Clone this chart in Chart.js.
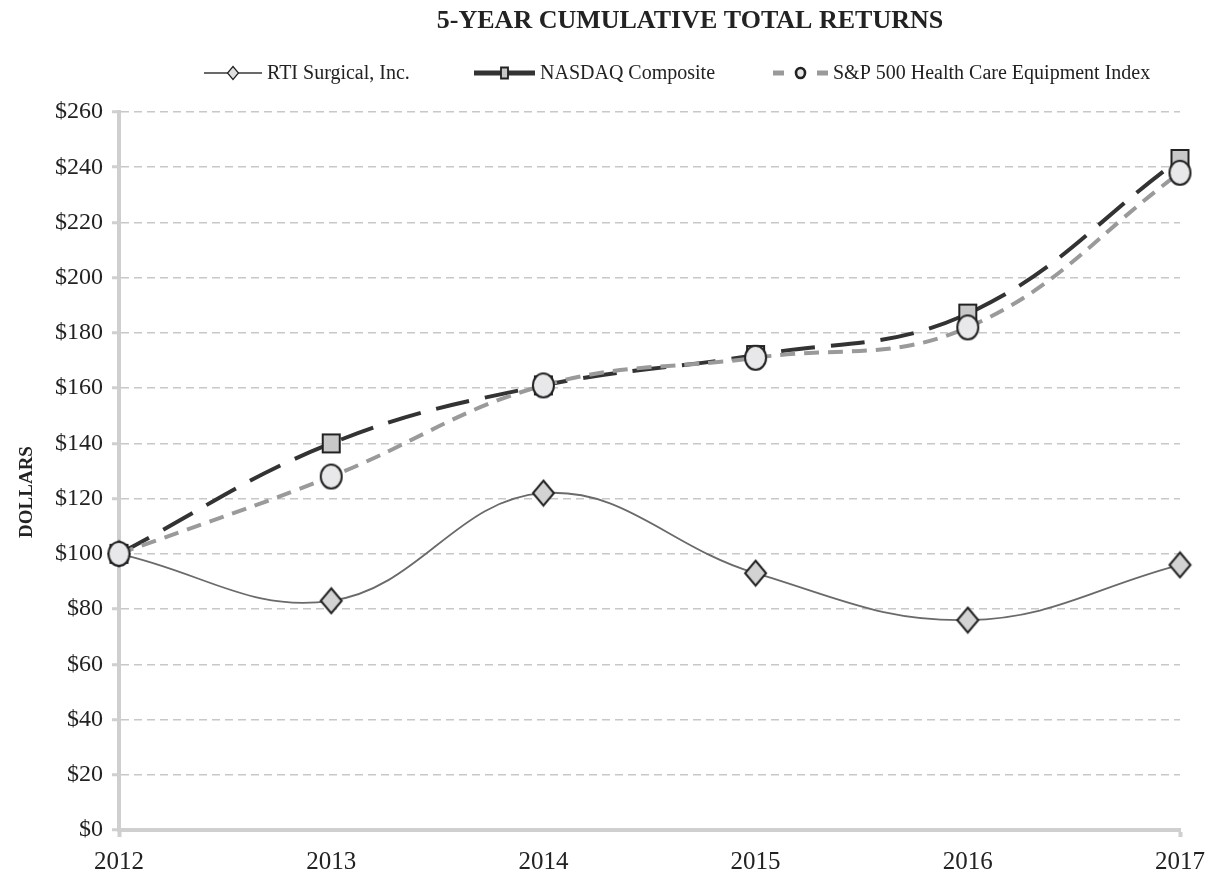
<!DOCTYPE html>
<html>
<head>
<meta charset="utf-8">
<script src="https://cdn.jsdelivr.net/npm/chart.js@4"></script>
<style>
  html, body { margin: 0; padding: 0; background: #fff; }
  #wrap { width: 1215px; height: 875px; position: relative; }
</style>
</head>
<body>
<div id="wrap"><canvas id="returnsChart" width="1215" height="875"></canvas></div>
<script>
  // data
  const years = ["2012", "2013", "2014", "2015", "2016", "2017"];
  const rtiValues = [100, 83, 122, 93, 76, 96];
  const nasdaqValues = [100, 140, 161, 172, 187, 243];
  const spHealthValues = [100, 128, 161, 171, 182, 238];
  const seriesNames = ["RTI Surgical, Inc.", "NASDAQ Composite", "S&P 500 Health Care Equipment Index"];
  const yTicks = [0, 20, 40, 60, 80, 100, 120, 140, 160, 180, 200, 220, 240, 260];

  const serif = "'Liberation Serif', 'Times New Roman', serif";

  // markers in the original are a bit taller than wide, so draw them on small canvases
  function makeMarker(shape, w, h, fill, lw) {
    const c = document.createElement('canvas');
    c.width = Math.ceil(w + lw * 2);
    c.height = Math.ceil(h + lw * 2);
    const g = c.getContext('2d');
    const cx = c.width / 2, cy = c.height / 2;
    g.beginPath();
    if (shape === 'diamond') {
      g.moveTo(cx, cy - h / 2);
      g.lineTo(cx + w / 2, cy);
      g.lineTo(cx, cy + h / 2);
      g.lineTo(cx - w / 2, cy);
      g.closePath();
    } else if (shape === 'square') {
      g.rect(cx - w / 2, cy - h / 2, w, h);
    } else {
      g.ellipse(cx, cy, w / 2, h / 2, 0, 0, Math.PI * 2);
    }
    g.fillStyle = fill;
    g.fill();
    g.lineWidth = lw;
    g.strokeStyle = '#222';
    g.stroke();
    return c;
  }

  const diamondBig = makeMarker('diamond', 21, 25, '#d3d3d3', 2);
  const squareBig = makeMarker('square', 17, 18, '#c8c8c8', 2);
  const ellipseBig = makeMarker('ellipse', 21, 24, '#e8e8ea', 2);
  const diamondSmall = makeMarker('diamond', 11, 13, '#e0e0e0', 1.2);
  const squareSmall = makeMarker('square', 7, 11, '#c8c8c8', 1.8);
  const ellipseSmall = makeMarker('ellipse', 9, 10, '#e8e8ea', 2.6);

  // title, legend and axis title drawn by hand
  const legendX = [204, 474, 773];
  const legendW = [58, 61, 55];
  const headerPlugin = {
    id: 'header',
    afterDraw(chart) {
      const ctx = chart.ctx;
      ctx.save();
      ctx.fillStyle = '#222';
      ctx.font = 'bold 26px ' + serif;
      ctx.textAlign = 'center';
      ctx.textBaseline = 'middle';
      ctx.fillText('5-YEAR CUMULATIVE TOTAL RETURNS', 690, 21);

      ctx.save();
      ctx.translate(27, 492);
      ctx.rotate(-Math.PI / 2);
      ctx.font = 'bold 19px ' + serif;
      ctx.fillText('DOLLARS', 0, 0);
      ctx.restore();

      const y = 73;
      chart.data.datasets.forEach((ds, i) => {
        const x0 = legendX[i], w = legendW[i];
        ctx.save();
        ctx.strokeStyle = ds.borderColor;
        ctx.lineWidth = ds.legendWidth;
        ctx.setLineDash(ds.legendDash || []);
        ctx.beginPath();
        ctx.moveTo(x0, y);
        ctx.lineTo(x0 + w, y);
        ctx.stroke();
        const m = ds.legendMarker;
        ctx.drawImage(m, x0 + w / 2 - m.width / 2, y - m.height / 2);
        ctx.restore();
        ctx.fillStyle = '#222';
        ctx.font = '20px ' + serif;
        ctx.textAlign = 'left';
        ctx.textBaseline = 'middle';
        ctx.fillText(ds.label, x0 + w + 5, y + 1);
      });
      ctx.restore();
    }
  };

  const ctx = document.getElementById('returnsChart').getContext('2d');
  const returnsChart = new Chart(ctx, {
    type: 'line',
    data: {
      labels: years,
      datasets: [
        {
          label: seriesNames[0],
          data: rtiValues,
          borderColor: '#6a6a6a',
          borderWidth: 1.8,
          borderDash: [],
          legendDash: [],
          legendWidth: 1.8,
          tension: 0.4,
          clip: false,
          pointStyle: diamondBig,
          legendMarker: diamondSmall,
          order: 3
        },
        {
          label: seriesNames[1],
          data: nasdaqValues,
          borderColor: '#333',
          borderWidth: 4,
          borderDash: [34, 16],
          legendDash: [],
          legendWidth: 5,
          tension: 0.4,
          clip: false,
          pointStyle: squareBig,
          legendMarker: squareSmall,
          order: 2
        },
        {
          label: seriesNames[2],
          data: spHealthValues,
          borderColor: '#9a9a9a',
          borderWidth: 4,
          borderDash: [15, 9],
          legendDash: [11, 33],
          legendWidth: 5,
          tension: 0.4,
          clip: false,
          pointStyle: ellipseBig,
          legendMarker: ellipseSmall,
          order: 1
        }
      ]
    },
    options: {
      responsive: false,
      animation: false,
      layout: { padding: { top: 112, right: 35, left: 0, bottom: 0 } },
      plugins: {
        legend: { display: false },
        title: { display: false },
        tooltip: { enabled: false }
      },
      scales: {
        x: {
          offset: false,
          grid: {
            display: true,
            drawOnChartArea: false,
            drawTicks: true,
            tickLength: 7,
            tickWidth: 4,
            tickColor: c => (c.index === 0 || c.index === years.length - 1) ? '#cfcfcf' : 'rgba(0,0,0,0)'
          },
          border: { display: true, color: '#cfcfcf', width: 4 },
          ticks: { color: '#222', font: { family: serif, size: 25 }, padding: 10, maxRotation: 0 },
          afterFit(scale) {
            scale.height = 45;
            scale.paddingLeft = 0;
            scale.paddingRight = 0;
          }
        },
        y: {
          min: 0,
          max: 260,
          afterBuildTicks(scale) { scale.ticks = yTicks.map(v => ({ value: v })); },
          grid: {
            color: '#c8c8c8',
            lineWidth: 1.5,
            drawTicks: true,
            tickLength: 7,
            tickColor: '#cfcfcf',
            tickWidth: 3
          },
          border: { display: true, color: '#cfcfcf', width: 4, dash: [8, 5] },
          ticks: {
            color: '#222',
            font: { family: serif, size: 24 },
            padding: 9,
            callback: v => '$' + v
          },
          afterFit(scale) { scale.width = 119; }
        }
      }
    },
    plugins: [headerPlugin]
  });
</script>
</body>
</html>
